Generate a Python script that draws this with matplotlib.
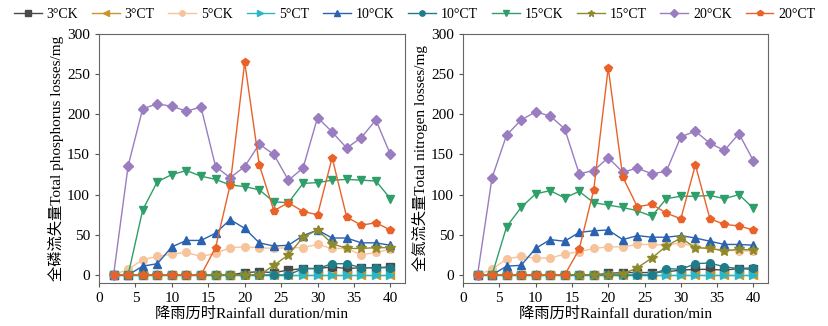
import numpy as np
import matplotlib.pyplot as plt

plt.rcParams['font.family'] = ['Liberation Serif', 'Noto Sans CJK SC']
plt.rcParams['axes.unicode_minus'] = False

# 降雨历时 /min
t = np.arange(2, 41, 2)

labels = ['3°CK', '3°CT', '5°CK', '5°CT', '10°CK', '10°CT', '15°CK', '15°CT', '20°CK', '20°CT']
colors = ['#4a4a4a', '#c8962a', '#f7c39a', '#2bb8c4', '#2a62b0', '#1f7d8a',
          '#2f9e68', '#8e8a2c', '#9a7cc0', '#e8622a']
markers = ['s', '<', 'o', '>', '^', 'o', 'v', '*', 'D', 'p']

# 全磷流失量 (mg)
tp_3ck = [0, 0, 0, 0, 0, 0, 0, 0, 0, 3, 4, 3, 6, 8, 8, 10, 8, 9, 9, 10]
tp_3ct = [0] * 20
tp_5ck = [0, 7, 19, 23, 26, 28, 23, 27, 34, 35, 34, 33, 34, 34, 38, 33, 33, 25, 28, 32]
tp_5ct = [0] * 20
tp_10ck = [0, 0, 11, 14, 35, 43, 43, 52, 69, 58, 40, 36, 37, 49, 56, 46, 46, 40, 40, 37]
tp_10ct = [0, 0, 0, 0, 0, 0, 0, 0, 0, 0, 0, 0, 0, 8, 8, 14, 14, 9, 9, 9]
tp_15ck = [0, 0, 81, 116, 125, 130, 123, 119, 112, 110, 106, 91, 90, 114, 115, 118, 119, 118, 117, 95]
tp_15ct = [0, 0, 0, 0, 0, 0, 0, 0, 0, 0, 0, 12, 25, 47, 56, 39, 33, 33, 34, 34]
tp_20ck = [0, 136, 207, 213, 210, 204, 209, 135, 121, 135, 163, 150, 118, 133, 196, 178, 158, 171, 193, 150]
tp_20ct = [0, 0, 0, 0, 0, 0, 0, 34, 112, 265, 137, 80, 90, 79, 75, 146, 72, 62, 65, 56]

# 全氮流失量 (mg)
tn_3ck = [0, 0, 0, 0, 0, 0, 0, 0, 0, 2, 3, 3, 3, 4, 6, 7, 7, 6, 8, 7]
tn_3ct = [0] * 20
tn_5ck = [0, 7, 20, 23, 21, 21, 26, 29, 33, 35, 35, 38, 38, 37, 40, 35, 33, 31, 30, 30]
tn_5ct = [0] * 20
tn_10ck = [0, 0, 11, 12, 33, 44, 42, 53, 55, 56, 44, 49, 47, 47, 49, 46, 42, 38, 38, 37]
tn_10ct = [0, 0, 0, 0, 0, 0, 0, 0, 0, 0, 0, 0, 0, 8, 7, 14, 15, 10, 8, 9]
tn_15ck = [0, 0, 60, 84, 101, 105, 96, 104, 90, 87, 84, 80, 73, 95, 98, 98, 99, 95, 100, 83]
tn_15ct = [0, 0, 0, 0, 0, 0, 0, 0, 0, 0, 1, 9, 21, 36, 46, 34, 33, 30, 32, 31]
tn_20ck = [0, 121, 174, 193, 203, 198, 182, 126, 130, 146, 128, 133, 126, 129, 172, 179, 164, 155, 176, 142]
tn_20ct = [0, 0, 0, 0, 0, 0, 0, 32, 106, 258, 122, 85, 88, 77, 70, 137, 70, 63, 61, 56]

tp = [tp_3ck, tp_3ct, tp_5ck, tp_5ct, tp_10ck, tp_10ct, tp_15ck, tp_15ct, tp_20ck, tp_20ct]
tn = [tn_3ck, tn_3ct, tn_5ck, tn_5ct, tn_10ck, tn_10ct, tn_15ck, tn_15ct, tn_20ck, tn_20ct]

fig = plt.figure(figsize=(8.29, 3.26), dpi=100)
ax1 = fig.add_axes([99 / 829, 43 / 326, 306 / 829, 249 / 326])
ax2 = fig.add_axes([463 / 829, 43 / 326, 305 / 829, 249 / 326])

for ax, data, ylab in [(ax1, tp, '全磷流失量Total phosphorus losses/mg'),
                       (ax2, tn, '全氮流失量Total nitrogen losses/mg')]:
    for i in range(len(labels)):
        ms = 7 if markers[i] == '*' else 5.5
        ax.plot(t, data[i], color=colors[i], marker=markers[i], markersize=ms,
                linewidth=1, label=labels[i])
    ax.set_xlim(0, 42)
    ax.set_ylim(-10, 300)
    ax.set_xticks(range(0, 41, 5))
    ax.set_yticks(range(0, 301, 50))
    ax.tick_params(labelsize=11, length=3, color='#555555')
    for s in ax.spines.values():
        s.set_color('#666666')
    ax.set_xlabel('降雨历时Rainfall duration/min', fontsize=11, labelpad=1)
    ax.set_ylabel(ylab, fontsize=11, labelpad=2)

h, l = ax1.get_legend_handles_labels()
fig.legend(h, l, loc='upper center', bbox_to_anchor=(0.5, 1.015), ncol=10,
           frameon=False, fontsize=10, handlelength=2.0, columnspacing=1.0,
           handletextpad=0.35, markerscale=0.7)

fig.savefig('out.png', dpi=100)
